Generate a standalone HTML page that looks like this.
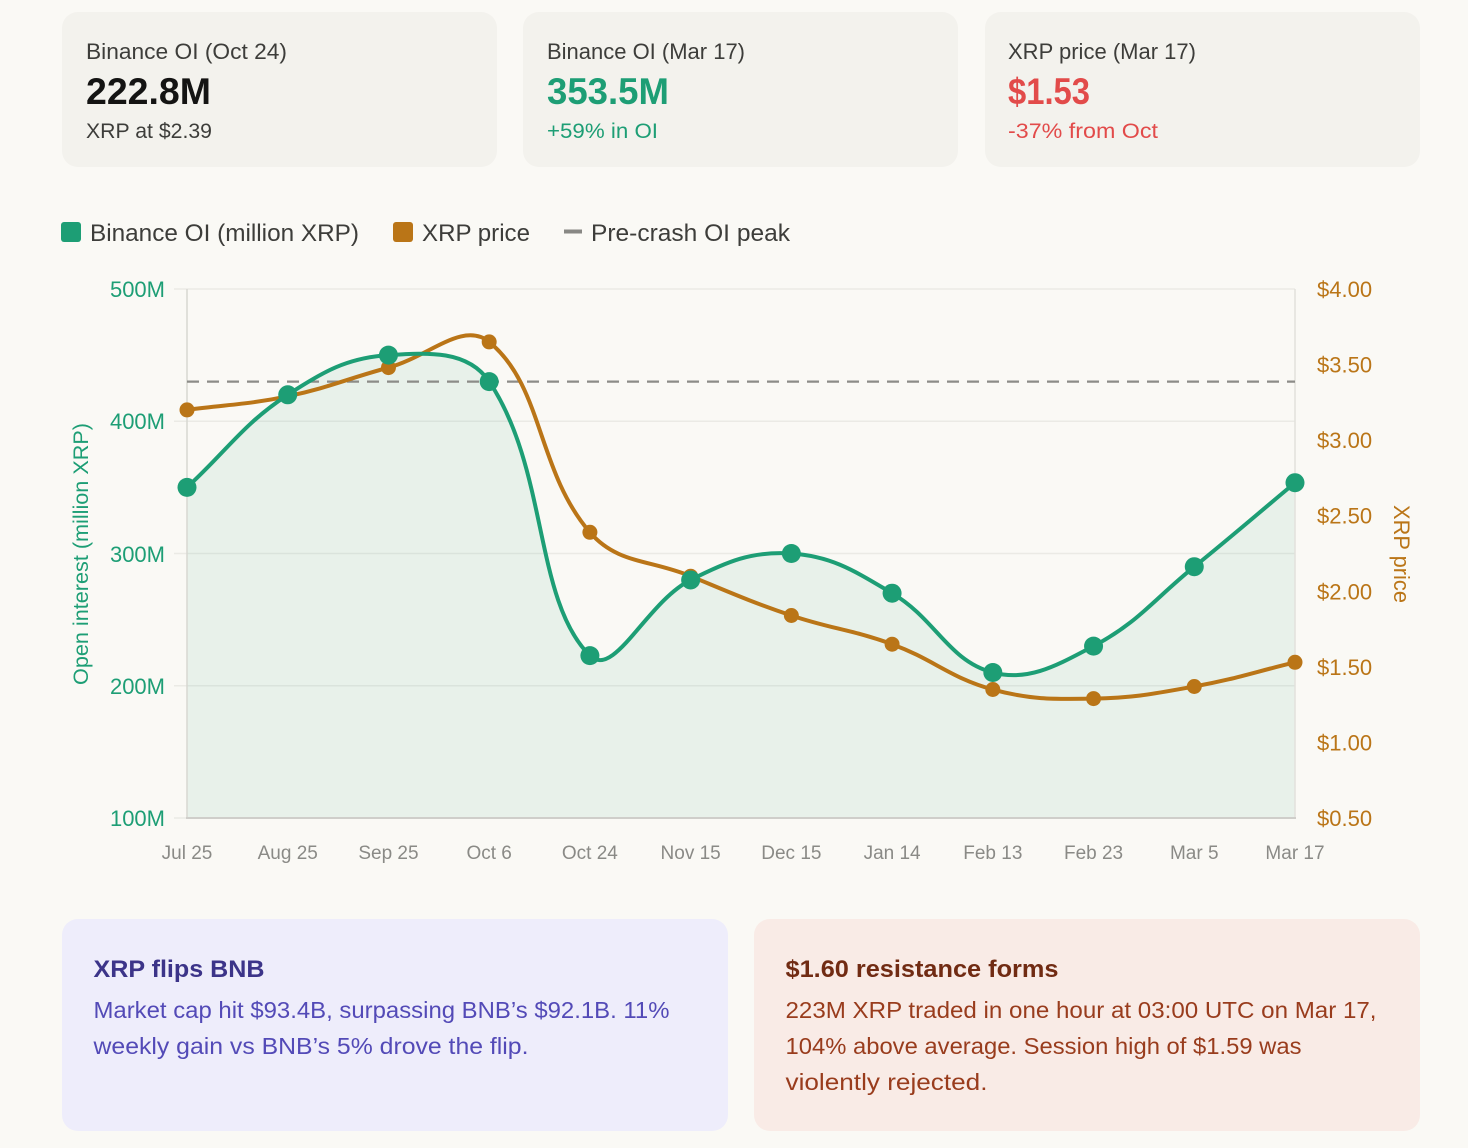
<!DOCTYPE html>
<html><head><meta charset="utf-8">
<style>
html,body{margin:0;padding:0;background:#faf9f5;}
svg{display:block;}
text{font-family:"Liberation Sans",Arial,sans-serif;}
</style></head>
<body>
<svg id="s" width="1468" height="1148" viewBox="0 0 1468 1148" xmlns="http://www.w3.org/2000/svg">
<rect width="1468" height="1148" fill="#faf9f5"/>

<!-- top cards -->
<rect x="62" y="12" width="435" height="155" rx="16" fill="#f3f2ed"/>
<rect x="523" y="12" width="435" height="155" rx="16" fill="#f3f2ed"/>
<rect x="985" y="12" width="435" height="155" rx="16" fill="#f3f2ed"/>

<text x="86" y="59" font-size="22" fill="#3d3d3a" textLength="201" lengthAdjust="spacingAndGlyphs">Binance OI (Oct 24)</text>
<text x="86" y="104" font-size="37" font-weight="bold" fill="#141413" textLength="125" lengthAdjust="spacingAndGlyphs">222.8M</text>
<text x="86" y="138" font-size="21" fill="#3d3d3a" textLength="126" lengthAdjust="spacingAndGlyphs">XRP at $2.39</text>

<text x="547" y="59" font-size="22" fill="#3d3d3a" textLength="198" lengthAdjust="spacingAndGlyphs">Binance OI (Mar 17)</text>
<text x="547" y="104" font-size="37" font-weight="bold" fill="#1d9e75" textLength="122" lengthAdjust="spacingAndGlyphs">353.5M</text>
<text x="547" y="138" font-size="21" fill="#1d9e75" textLength="111" lengthAdjust="spacingAndGlyphs">+59% in OI</text>

<text x="1008" y="59" font-size="22" fill="#3d3d3a" textLength="188" lengthAdjust="spacingAndGlyphs">XRP price (Mar 17)</text>
<text x="1008" y="104" font-size="37" font-weight="bold" fill="#e24b4a" textLength="82" lengthAdjust="spacingAndGlyphs">$1.53</text>
<text x="1008" y="138" font-size="21" fill="#e24b4a" textLength="150" lengthAdjust="spacingAndGlyphs">-37% from Oct</text>

<!-- legend -->
<rect x="61" y="222" width="20" height="20" rx="3" fill="#1d9e75"/>
<text x="90" y="241" font-size="24" fill="#3d3d3a" textLength="269" lengthAdjust="spacingAndGlyphs">Binance OI (million XRP)</text>
<rect x="393" y="222" width="20" height="20" rx="3" fill="#ba7517"/>
<text x="422" y="241" font-size="24" fill="#3d3d3a" textLength="108" lengthAdjust="spacingAndGlyphs">XRP price</text>
<rect x="564" y="229.5" width="18" height="4" fill="#888884"/>
<text x="591" y="241" font-size="24" fill="#3d3d3a" textLength="199" lengthAdjust="spacingAndGlyphs">Pre-crash OI peak</text>

<!-- grid -->
<g stroke="#ebeae5" stroke-width="1.5">
<line x1="174" y1="289" x2="1295" y2="289"/>
<line x1="174" y1="421.25" x2="1295" y2="421.25"/>
<line x1="174" y1="553.5" x2="1295" y2="553.5"/>
<line x1="174" y1="685.75" x2="1295" y2="685.75"/>
<line x1="174" y1="818" x2="187" y2="818"/>
</g>

<!-- fill -->
<path id="fill" d="M187,487.4 L287.73,394.8 L388.45,355.1 L489.18,381.6 L589.91,655.6 L690.64,579.95 L791.36,553.5 L892.09,593.2 L992.82,672.5 L1093.55,646.1 L1194.27,566.7 L1295,482.7 L1295,818 L187,818 Z" fill="#1d9e75" fill-opacity="0.08"/>

<!-- axis lines -->
<line x1="187" y1="289" x2="187" y2="818" stroke="#d8d7d2" stroke-width="1.5"/>
<line x1="1295" y1="289" x2="1295" y2="818" stroke="#e2e1dc" stroke-width="1.5"/>
<line x1="186" y1="818" x2="1296" y2="818" stroke="#cfceca" stroke-width="2"/>

<!-- dashed peak -->
<line x1="187" y1="381.6" x2="1295" y2="381.6" stroke="#8c8c88" stroke-width="2.2" stroke-dasharray="12 8"/>

<!-- orange series -->
<path id="po" d="M187,409.9 L287.73,396.3 L388.45,367.6 L489.18,341.9 L589.91,532.3 L690.64,576.2 L791.36,615.5 L892.09,644.2 L992.82,689.5 L1093.55,698.6 L1194.27,686.5 L1295,662.3" fill="none" stroke="#ba7517" stroke-width="4" stroke-linejoin="round"/>
<g fill="#ba7517">
<circle cx="187" cy="409.9" r="7.5"/><circle cx="287.73" cy="396.3" r="7.5"/><circle cx="388.45" cy="367.6" r="7.5"/><circle cx="489.18" cy="341.9" r="7.5"/><circle cx="589.91" cy="532.3" r="7.5"/><circle cx="690.64" cy="576.2" r="7.5"/><circle cx="791.36" cy="615.5" r="7.5"/><circle cx="892.09" cy="644.2" r="7.5"/><circle cx="992.82" cy="689.5" r="7.5"/><circle cx="1093.55" cy="698.6" r="7.5"/><circle cx="1194.27" cy="686.5" r="7.5"/><circle cx="1295" cy="662.3" r="7.5"/>
</g>

<!-- green series -->
<path id="pg" d="M187,487.4 L287.73,394.8 L388.45,355.1 L489.18,381.6 L589.91,655.6 L690.64,579.95 L791.36,553.5 L892.09,593.2 L992.82,672.5 L1093.55,646.1 L1194.27,566.7 L1295,482.7" fill="none" stroke="#1d9e75" stroke-width="4" stroke-linejoin="round"/>
<g fill="#1d9e75">
<circle cx="187" cy="487.4" r="9.5"/><circle cx="287.73" cy="394.8" r="9.5"/><circle cx="388.45" cy="355.1" r="9.5"/><circle cx="489.18" cy="381.6" r="9.5"/><circle cx="589.91" cy="655.6" r="9.5"/><circle cx="690.64" cy="579.95" r="9.5"/><circle cx="791.36" cy="553.5" r="9.5"/><circle cx="892.09" cy="593.2" r="9.5"/><circle cx="992.82" cy="672.5" r="9.5"/><circle cx="1093.55" cy="646.1" r="9.5"/><circle cx="1194.27" cy="566.7" r="9.5"/><circle cx="1295" cy="482.7" r="9.5"/>
</g>

<!-- left y labels -->
<g font-size="22" fill="#1d9e75" text-anchor="end">
<text x="165" y="297">500M</text>
<text x="165" y="429">400M</text>
<text x="165" y="562">300M</text>
<text x="165" y="694">200M</text>
<text x="165" y="826">100M</text>
</g>
<!-- right y labels -->
<g font-size="22" fill="#ba7517">
<text x="1317" y="297">$4.00</text>
<text x="1317" y="372.6">$3.50</text>
<text x="1317" y="448.1">$3.00</text>
<text x="1317" y="523.7">$2.50</text>
<text x="1317" y="599.3">$2.00</text>
<text x="1317" y="674.9">$1.50</text>
<text x="1317" y="750.4">$1.00</text>
<text x="1317" y="826">$0.50</text>
</g>
<!-- x labels -->
<g font-size="19" fill="#8a8a86" text-anchor="middle">
<text x="187" y="859">Jul 25</text>
<text x="287.73" y="859">Aug 25</text>
<text x="388.45" y="859">Sep 25</text>
<text x="489.18" y="859">Oct 6</text>
<text x="589.91" y="859">Oct 24</text>
<text x="690.64" y="859">Nov 15</text>
<text x="791.36" y="859">Dec 15</text>
<text x="892.09" y="859">Jan 14</text>
<text x="992.82" y="859">Feb 13</text>
<text x="1093.55" y="859">Feb 23</text>
<text x="1194.27" y="859">Mar 5</text>
<text x="1295" y="859">Mar 17</text>
</g>

<!-- axis titles -->
<text transform="translate(88,554) rotate(-90)" font-size="21" fill="#1d9e75" text-anchor="middle" textLength="262" lengthAdjust="spacingAndGlyphs">Open interest (million XRP)</text>
<text transform="translate(1394,554) rotate(90)" font-size="22" fill="#ba7517" text-anchor="middle" textLength="98" lengthAdjust="spacingAndGlyphs">XRP price</text>

<!-- bottom cards -->
<rect x="62" y="919" width="666" height="212" rx="16" fill="#eeedfb"/>
<rect x="754" y="919" width="666" height="212" rx="16" fill="#f9ebe6"/>

<text x="93.5" y="977" font-size="24" font-weight="bold" fill="#3c3489" textLength="171" lengthAdjust="spacingAndGlyphs">XRP flips BNB</text>
<text x="93.5" y="1018" font-size="23.5" fill="#534ab7" textLength="576" lengthAdjust="spacingAndGlyphs">Market cap hit $93.4B, surpassing BNB’s $92.1B. 11%</text>
<text x="93.5" y="1054" font-size="23.5" fill="#534ab7" textLength="435" lengthAdjust="spacingAndGlyphs">weekly gain vs BNB’s 5% drove the flip.</text>

<text x="785.5" y="977" font-size="24" font-weight="bold" fill="#712b13" textLength="273" lengthAdjust="spacingAndGlyphs">$1.60 resistance forms</text>
<text x="785.5" y="1018" font-size="23.5" fill="#993c1d" textLength="591" lengthAdjust="spacingAndGlyphs">223M XRP traded in one hour at 03:00 UTC on Mar 17,</text>
<text x="785.5" y="1054" font-size="23.5" fill="#993c1d" textLength="516" lengthAdjust="spacingAndGlyphs">104% above average. Session high of $1.59 was</text>
<text x="785.5" y="1090" font-size="23.5" fill="#993c1d" textLength="202" lengthAdjust="spacingAndGlyphs">violently rejected.</text>
</svg>
<script>
(function(){
  var X0=187, X1=1295, DX=(X1-X0)/11, TOP=289, BOT=818;
  function yL(v){return BOT-(v-100)*(529/400);}
  function yR(p){return BOT-(p-0.5)*(529/3.5);}
  var oi=[350,420,450,430,222.8,280,300,270,210,230,290,353.5];
  var pr=[3.20,3.29,3.48,3.65,2.39,2.10,1.84,1.65,1.35,1.29,1.37,1.53];
  function pts(arr,f){return arr.map(function(v,i){return {x:X0+i*DX,y:f(v)};});}
  function cap(v,a,b){return Math.max(a,Math.min(b,v));}
  function build(P){
    var t=0.4,n=P.length,cp=[];
    for(var i=0;i<n;i++){
      var prev=P[Math.max(0,i-1)],cur=P[i],next=P[Math.min(n-1,i+1)];
      var d01=Math.hypot(cur.x-prev.x,cur.y-prev.y),d12=Math.hypot(next.x-cur.x,next.y-cur.y);
      var s01=d01/(d01+d12),s12=d12/(d01+d12);
      if(isNaN(s01))s01=0; if(isNaN(s12))s12=0;
      var fa=t*s01,fb=t*s12;
      cp.push({
        px:cap(cur.x-fa*(next.x-prev.x),X0,X1),py:cap(cur.y-fa*(next.y-prev.y),TOP,BOT),
        nx:cap(cur.x+fb*(next.x-prev.x),X0,X1),ny:cap(cur.y+fb*(next.y-prev.y),TOP,BOT)
      });
    }
    var d="M"+P[0].x.toFixed(2)+","+P[0].y.toFixed(2);
    for(var j=1;j<n;j++){
      d+=" C"+cp[j-1].nx.toFixed(2)+","+cp[j-1].ny.toFixed(2)+" "+cp[j].px.toFixed(2)+","+cp[j].py.toFixed(2)+" "+P[j].x.toFixed(2)+","+P[j].y.toFixed(2);
    }
    return d;
  }
  var g=build(pts(oi,yL)), o=build(pts(pr,yR));
  document.getElementById('pg').setAttribute('d',g);
  document.getElementById('po').setAttribute('d',o);
  document.getElementById('fill').setAttribute('d',g+" L1295,818 L187,818 Z");
})();
</script>
</body></html>
